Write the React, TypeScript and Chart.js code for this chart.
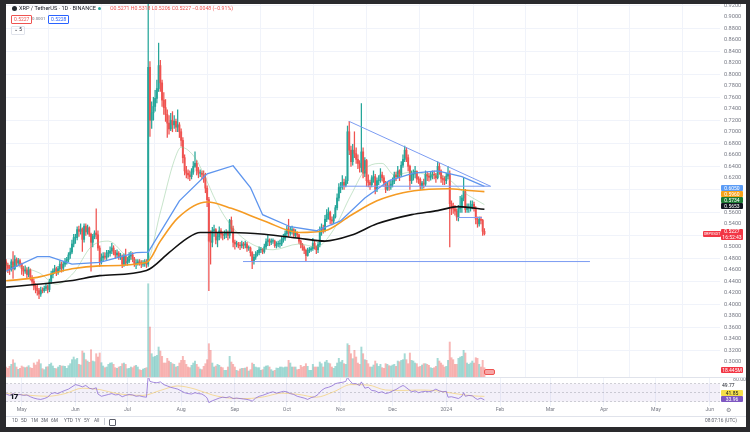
import React, { useEffect, useRef } from "react";
import { Chart, registerables } from "chart.js";
Chart.register(...registerables);

// Day index 0 = 1 May 2023. First candle = 22 Apr 2023.
const START_DAY = -9;
const FIRST_OPEN = 0.474;

// Daily closes (22 Apr 2023 .. 23 Jan 2024)
const closes = [
  // Apr 22-30
  0.468, 0.463, 0.461, 0.474, 0.462, 0.478, 0.472, 0.476, 0.470,
  // May
  0.462, 0.458, 0.460, 0.452, 0.460, 0.446, 0.440, 0.432, 0.428, 0.424, 0.418, 0.425, 0.424, 0.428, 0.431, 0.426, 0.440, 0.452, 0.458, 0.462, 0.455, 0.462, 0.470, 0.463, 0.470, 0.475, 0.478, 0.486, 0.491, 0.505, 0.516,
  // Jun
  0.516, 0.530, 0.527, 0.531, 0.513, 0.536, 0.526, 0.533, 0.522, 0.508, 0.518, 0.524, 0.521, 0.498, 0.474, 0.481, 0.484, 0.482, 0.489, 0.489, 0.493, 0.498, 0.491, 0.486, 0.489, 0.483, 0.484, 0.470, 0.484, 0.472,
  // Jul
  0.475, 0.484, 0.486, 0.479, 0.471, 0.472, 0.474, 0.473, 0.470, 0.471, 0.474, 0.470, 0.812, 0.720, 0.733, 0.744, 0.758, 0.775, 0.815, 0.785, 0.755, 0.742, 0.730, 0.715, 0.705, 0.720, 0.712, 0.718, 0.708, 0.712, 0.700,
  // Aug
  0.685, 0.655, 0.632, 0.628, 0.625, 0.622, 0.630, 0.640, 0.645, 0.632, 0.628, 0.628, 0.626, 0.620, 0.602, 0.582, 0.510, 0.508, 0.528, 0.530, 0.512, 0.518, 0.528, 0.522, 0.520, 0.522, 0.524, 0.520, 0.546, 0.532, 0.508,
  // Sep
  0.505, 0.505, 0.503, 0.502, 0.505, 0.503, 0.505, 0.498, 0.498, 0.490, 0.475, 0.482, 0.487, 0.490, 0.495, 0.495, 0.492, 0.500, 0.509, 0.512, 0.508, 0.510, 0.510, 0.502, 0.505, 0.505, 0.505, 0.513, 0.515, 0.523,
  // Oct
  0.531, 0.524, 0.528, 0.530, 0.520, 0.525, 0.521, 0.510, 0.504, 0.499, 0.494, 0.485, 0.494, 0.495, 0.497, 0.506, 0.500, 0.495, 0.504, 0.526, 0.533, 0.530, 0.548, 0.556, 0.560, 0.547, 0.545, 0.552, 0.568, 0.585, 0.603,
  // Nov
  0.605, 0.612, 0.607, 0.615, 0.700, 0.668, 0.648, 0.668, 0.662, 0.652, 0.645, 0.638, 0.665, 0.628, 0.650, 0.615, 0.612, 0.608, 0.620, 0.622, 0.600, 0.615, 0.616, 0.625, 0.620, 0.611, 0.600, 0.606, 0.604, 0.609,
  // Dec
  0.614, 0.625, 0.622, 0.632, 0.625, 0.642, 0.652, 0.668, 0.655, 0.640, 0.615, 0.626, 0.627, 0.631, 0.618, 0.617, 0.606, 0.611, 0.609, 0.626, 0.623, 0.621, 0.624, 0.626, 0.625, 0.620, 0.640, 0.632, 0.619, 0.617, 0.615,
  // Jan 1-23
  0.623, 0.627, 0.575, 0.570, 0.566, 0.562, 0.552, 0.566, 0.569, 0.585, 0.596, 0.565, 0.568, 0.568, 0.570, 0.574, 0.567, 0.548, 0.540, 0.548, 0.546, 0.5271, 0.5227,
];

const highs = [
  0.478, 0.472, 0.468, 0.478, 0.492, 0.485, 0.481, 0.480, 0.479,
  0.472, 0.466, 0.467, 0.464, 0.465, 0.462, 0.450, 0.444, 0.436, 0.434, 0.428, 0.430, 0.429, 0.432, 0.436, 0.434, 0.444, 0.458, 0.462, 0.468, 0.465, 0.466, 0.476, 0.474, 0.474, 0.480, 0.482, 0.490, 0.498, 0.512, 0.522,
  0.522, 0.535, 0.536, 0.540, 0.533, 0.540, 0.540, 0.538, 0.535, 0.524, 0.522, 0.528, 0.566, 0.528, 0.502, 0.488, 0.490, 0.490, 0.494, 0.494, 0.500, 0.506, 0.502, 0.494, 0.495, 0.492, 0.489, 0.486, 0.488, 0.496,
  0.482, 0.490, 0.492, 0.490, 0.482, 0.478, 0.478, 0.478, 0.476, 0.476, 0.478, 0.478, 0.938, 0.822, 0.752, 0.760, 0.772, 0.790, 0.854, 0.824, 0.790, 0.768, 0.756, 0.738, 0.728, 0.732, 0.735, 0.728, 0.722, 0.738, 0.716,
  0.705, 0.690, 0.660, 0.640, 0.634, 0.632, 0.636, 0.648, 0.665, 0.650, 0.638, 0.634, 0.632, 0.632, 0.628, 0.606, 0.586, 0.528, 0.534, 0.538, 0.532, 0.525, 0.535, 0.532, 0.526, 0.528, 0.530, 0.528, 0.548, 0.552, 0.536,
  0.512, 0.510, 0.508, 0.508, 0.510, 0.508, 0.510, 0.508, 0.502, 0.500, 0.492, 0.487, 0.492, 0.494, 0.500, 0.499, 0.497, 0.505, 0.514, 0.520, 0.514, 0.514, 0.514, 0.512, 0.509, 0.510, 0.512, 0.518, 0.522, 0.528,
  0.536, 0.548, 0.534, 0.536, 0.532, 0.530, 0.526, 0.522, 0.512, 0.506, 0.502, 0.496, 0.498, 0.499, 0.500, 0.515, 0.510, 0.502, 0.508, 0.535, 0.540, 0.538, 0.555, 0.565, 0.568, 0.562, 0.552, 0.556, 0.572, 0.592, 0.610,
  0.612, 0.624, 0.618, 0.622, 0.710, 0.718, 0.675, 0.678, 0.700, 0.672, 0.660, 0.650, 0.749, 0.672, 0.655, 0.652, 0.625, 0.616, 0.624, 0.632, 0.626, 0.620, 0.624, 0.636, 0.630, 0.624, 0.614, 0.612, 0.614, 0.616,
  0.620, 0.630, 0.630, 0.640, 0.634, 0.648, 0.660, 0.675, 0.673, 0.660, 0.642, 0.632, 0.634, 0.640, 0.632, 0.622, 0.620, 0.614, 0.618, 0.632, 0.630, 0.628, 0.630, 0.632, 0.632, 0.628, 0.648, 0.645, 0.634, 0.624, 0.622,
  0.628, 0.640, 0.632, 0.580, 0.576, 0.572, 0.566, 0.572, 0.588, 0.590, 0.620, 0.600, 0.575, 0.575, 0.580, 0.580, 0.578, 0.570, 0.552, 0.552, 0.552, 0.548, 0.5318,
];

const lows = [
  0.460, 0.455, 0.452, 0.458, 0.445, 0.460, 0.466, 0.468, 0.466,
  0.452, 0.450, 0.454, 0.446, 0.448, 0.442, 0.434, 0.425, 0.420, 0.416, 0.410, 0.414, 0.420, 0.421, 0.424, 0.420, 0.422, 0.436, 0.446, 0.454, 0.450, 0.452, 0.458, 0.456, 0.458, 0.466, 0.470, 0.474, 0.480, 0.488, 0.500,
  0.506, 0.512, 0.518, 0.522, 0.492, 0.508, 0.520, 0.522, 0.518, 0.458, 0.500, 0.514, 0.514, 0.494, 0.466, 0.470, 0.476, 0.478, 0.478, 0.482, 0.484, 0.488, 0.486, 0.480, 0.482, 0.478, 0.478, 0.464, 0.466, 0.468,
  0.468, 0.472, 0.478, 0.474, 0.466, 0.462, 0.468, 0.468, 0.464, 0.466, 0.466, 0.464, 0.466, 0.692, 0.706, 0.720, 0.736, 0.750, 0.770, 0.770, 0.744, 0.730, 0.718, 0.690, 0.696, 0.702, 0.700, 0.706, 0.700, 0.700, 0.690,
  0.675, 0.646, 0.625, 0.620, 0.618, 0.615, 0.618, 0.626, 0.638, 0.625, 0.620, 0.622, 0.618, 0.612, 0.594, 0.570, 0.424, 0.470, 0.500, 0.518, 0.505, 0.500, 0.512, 0.515, 0.512, 0.514, 0.516, 0.512, 0.515, 0.526, 0.500,
  0.496, 0.500, 0.498, 0.495, 0.498, 0.497, 0.498, 0.492, 0.494, 0.484, 0.462, 0.470, 0.478, 0.484, 0.486, 0.490, 0.488, 0.489, 0.496, 0.502, 0.502, 0.504, 0.506, 0.499, 0.498, 0.500, 0.499, 0.502, 0.508, 0.511,
  0.518, 0.518, 0.520, 0.522, 0.516, 0.516, 0.516, 0.506, 0.498, 0.494, 0.488, 0.476, 0.484, 0.490, 0.492, 0.494, 0.496, 0.488, 0.490, 0.500, 0.520, 0.524, 0.526, 0.544, 0.548, 0.540, 0.538, 0.540, 0.550, 0.564, 0.580,
  0.594, 0.600, 0.600, 0.604, 0.610, 0.660, 0.640, 0.642, 0.655, 0.645, 0.636, 0.630, 0.630, 0.620, 0.622, 0.605, 0.604, 0.600, 0.604, 0.612, 0.592, 0.596, 0.608, 0.612, 0.614, 0.605, 0.594, 0.598, 0.598, 0.600,
  0.604, 0.610, 0.615, 0.620, 0.615, 0.622, 0.638, 0.648, 0.648, 0.632, 0.600, 0.610, 0.616, 0.620, 0.612, 0.610, 0.600, 0.600, 0.602, 0.606, 0.615, 0.614, 0.616, 0.618, 0.618, 0.612, 0.618, 0.626, 0.612, 0.608, 0.608,
  0.610, 0.618, 0.500, 0.556, 0.558, 0.555, 0.546, 0.545, 0.560, 0.560, 0.580, 0.560, 0.560, 0.560, 0.562, 0.566, 0.562, 0.540, 0.534, 0.536, 0.540, 0.520, 0.5206,
];

// Daily volume, millions XRP
const volumes = [
  300, 260, 320, 380, 520, 420, 300, 230, 260,
  330, 300, 280, 300, 340, 280, 260, 420, 360, 450, 520, 400, 250, 220, 300, 310, 380, 420, 330, 260, 250, 300, 350, 330, 330, 320, 260, 340, 400, 520, 600,
  520, 560, 380, 360, 780, 720, 520, 480, 440, 820, 480, 460, 700, 600, 720, 430, 330, 280, 300, 380, 420, 430, 380, 280, 260, 300, 320, 400, 420, 380,
  250, 260, 300, 280, 330, 350, 300, 220, 200, 240, 260, 280, 2800, 1500, 700, 600, 620, 650, 900, 780, 620, 420, 420, 560, 480, 440, 400, 380, 300, 320, 420,
  500, 620, 500, 380, 300, 280, 350, 420, 480, 380, 300, 240, 220, 320, 400, 520, 1000, 800, 420, 300, 330, 380, 350, 300, 280, 200, 200, 300, 620, 450, 380,
  300, 200, 180, 240, 260, 260, 270, 300, 180, 220, 420, 380, 300, 280, 280, 200, 220, 300, 330, 340, 300, 220, 180, 200, 270, 260, 300, 300, 280, 300,
  300, 500, 420, 300, 300, 300, 220, 230, 350, 300, 320, 400, 320, 200, 200, 380, 300, 300, 300, 450, 400, 300, 450, 500, 420, 400, 300, 260, 320, 420, 560,
  450, 500, 400, 380, 1000, 950, 700, 550, 800, 600, 420, 380, 900, 700, 520, 500, 400, 300, 300, 360, 480, 400, 320, 380, 280, 260, 400, 380, 340, 330,
  360, 380, 320, 480, 460, 500, 520, 700, 520, 400, 720, 500, 480, 420, 400, 300, 320, 360, 400, 400, 380, 350, 280, 260, 280, 320, 560, 480, 420, 360, 300,
  320, 500, 1050, 580, 520, 380, 380, 560, 600, 620, 800, 720, 420, 380, 420, 480, 420, 580, 560, 380, 300, 500, 280,
];

// Moving averages, read at sparse days
const blueDays = [-9, 9, 16, 29, 45, 66, 73, 91, 107, 122, 132, 139, 155, 170, 184, 198, 212, 226, 240, 254, 267];
const blueVals = [0.458, 0.483, 0.483, 0.470, 0.473, 0.490, 0.491, 0.580, 0.627, 0.641, 0.603, 0.556, 0.535, 0.528, 0.545, 0.585, 0.615, 0.628, 0.632, 0.622, 0.605];
const orangeDays = [-9, 9, 29, 45, 72, 80, 90, 107, 121, 140, 160, 175, 190, 205, 220, 235, 246, 258, 267];
const orangeVals = [0.441, 0.447, 0.462, 0.467, 0.473, 0.510, 0.550, 0.578, 0.567, 0.545, 0.525, 0.528, 0.555, 0.580, 0.594, 0.600, 0.601, 0.598, 0.596];
const blackDays = [-9, 9, 28, 45, 72, 85, 95, 103, 121, 140, 160, 175, 190, 205, 225, 240, 252, 267];
const blackVals = [0.430, 0.435, 0.441, 0.450, 0.459, 0.490, 0.514, 0.525, 0.525, 0.522, 0.515, 0.510, 0.520, 0.540, 0.556, 0.563, 0.570, 0.5653];
const greenDays = [-9, 10, 20, 30, 40, 50, 62, 72, 80, 88, 92, 100, 106, 112, 120, 130, 145, 160, 170, 180, 190, 200, 208, 215, 225, 235, 245, 255, 267];
const greenVals = [0.470, 0.455, 0.435, 0.455, 0.500, 0.510, 0.480, 0.475, 0.560, 0.650, 0.673, 0.655, 0.620, 0.580, 0.540, 0.510, 0.495, 0.505, 0.500, 0.530, 0.590, 0.640, 0.645, 0.625, 0.630, 0.625, 0.620, 0.595, 0.5734];

// Drawn trend lines
const descLineDays = [189, 270.8];
const descLineVals = [0.718, 0.605];
const flatLineDays = [183.7, 270.2];
const flatLineVals = [0.6054, 0.6054];
const supportDays = [127.7, 327.9];
const supportVals = [0.4745, 0.4745];
const shortDays = [251.8, 265.6];
const shortVals = [0.551, 0.551];

// RSI (read at sparse days)
const rsiDays = [-9, -7, -5, -3, -1, 1, 3, 5, 7, 9, 11, 13, 15, 17, 19, 21, 23, 25, 27, 29, 31, 33, 35, 37, 39, 41, 43, 44, 46, 48, 50, 52, 54, 56, 58, 60, 62, 64, 66, 68, 70, 72, 73, 74, 76, 78, 80, 82, 84, 86, 88, 90, 92, 94, 96, 98, 100, 102, 104, 106, 107, 108, 110, 112, 114, 116, 118, 120, 122, 124, 126, 128, 130, 132, 133, 135, 137, 139, 141, 143, 145, 147, 149, 151, 153, 155, 157, 159, 161, 163, 165, 167, 169, 171, 173, 175, 177, 179, 181, 183, 185, 187, 188, 189, 191, 193, 195, 196, 198, 200, 202, 204, 206, 208, 210, 212, 214, 216, 218, 220, 221, 223, 225, 227, 229, 231, 233, 235, 237, 239, 241, 243, 245, 246, 248, 250, 252, 254, 255, 256, 258, 260, 262, 263, 265, 267];
const rsiVals = [47, 44, 48, 45, 46, 44, 45, 41, 38, 36, 35, 37, 40, 48, 50, 48, 52, 55, 58, 63, 68, 66, 63, 66, 60, 58, 61, 47, 42, 44, 46, 48, 45, 46, 41, 44, 46, 45, 42, 43, 41, 40, 88, 75, 73, 72, 74, 68, 65, 62, 60, 58, 54, 50, 48, 47, 50, 48, 47, 42, 38, 28, 32, 35, 38, 40, 39, 41, 37, 38, 37, 36, 35, 33, 31, 38, 42, 44, 47, 50, 52, 49, 51, 53, 52, 48, 46, 42, 40, 38, 35, 39, 41, 46, 55, 60, 62, 65, 70, 72, 73, 75, 84, 78, 70, 70, 66, 74, 60, 62, 55, 54, 50, 52, 48, 50, 54, 57, 62, 66, 64, 58, 52, 54, 50, 52, 53, 52, 54, 58, 54, 52, 53, 40, 41, 39, 37, 42, 50, 42, 44, 43, 37, 35, 38, 33.96];
const rsiMaDays = [-9, 5, 15, 25, 35, 45, 55, 70, 80, 90, 100, 110, 120, 130, 140, 150, 160, 170, 180, 190, 200, 210, 220, 230, 240, 250, 260, 267];
const rsiMaVals = [48, 44, 42, 48, 60, 57, 48, 44, 55, 65, 58, 45, 38, 37, 41, 49, 46, 40, 52, 68, 67, 56, 55, 56, 54, 48, 43, 41.85];

// Axis ticks
const monthDays = [0, 31, 61, 92, 123, 153, 184, 214, 245, 276, 305, 336, 366, 397];
const monthLabels = ["May", "Jun", "Jul", "Aug", "Sep", "Oct", "Nov", "Dec", "2024", "Feb", "Mar", "Apr", "May", "Jun"];
const priceTicks = [0.30, 0.32, 0.34, 0.36, 0.38, 0.40, 0.42, 0.44, 0.46, 0.48, 0.50, 0.52, 0.54, 0.56, 0.58, 0.60, 0.62, 0.64, 0.66, 0.68, 0.70, 0.72, 0.74, 0.76, 0.78, 0.80, 0.82, 0.84, 0.86, 0.88, 0.90, 0.92];
const hiddenPriceTicks = [0.58, 0.60, 0.52];

const X_MIN = -9.06;
const X_MAX = 402.94;
const UP = "#26a69a";
const DOWN = "#ef5350";
const FONT = "Roboto";
const GRID = "#f0f3fa";

const pts = (ds: number[], vs: number[]) => ds.map((d, i) => ({ x: d, y: vs[i] }));

function monthTicks(scale: any) {
  scale.ticks = monthDays.map((v) => ({ value: v }));
}

export default function App() {
  const priceRef = useRef<HTMLCanvasElement>(null);
  const rsiRef = useRef<HTMLCanvasElement>(null);

  useEffect(() => {
    const days = closes.map((_, i) => START_DAY + i);
    const opens = closes.map((_, i) => (i === 0 ? FIRST_OPEN : closes[i - 1]));
    const isUp = closes.map((c, i) => c >= opens[i]);
    const candleCol = isUp.map((u) => (u ? UP : DOWN));
    const volCol = isUp.map((u) => (u ? "rgba(38,166,154,0.42)" : "rgba(239,83,80,0.42)"));

    const lineDs = (data: any, color: string, width: number, tension: number, order = 0) => ({
      type: "line" as const,
      data,
      borderColor: color,
      borderWidth: width,
      pointRadius: 0,
      tension,
      cubicInterpolationMode: tension > 0 ? ("monotone" as const) : ("default" as const),
      yAxisID: "y",
      order,
    });

    const priceChart = new Chart(priceRef.current!, {
      type: "bar",
      data: {
        datasets: [
          lineDs(pts(descLineDays, descLineVals), "#7b9cf2", 1, 0),
          lineDs(pts(flatLineDays, flatLineVals), "#7b9cf2", 1, 0),
          lineDs(pts(supportDays, supportVals), "#7b9cf2", 1, 0),
          lineDs(pts(shortDays, shortVals), "#7b9cf2", 1, 0),
          lineDs(pts(blueDays, blueVals), "#5e95ee", 1.3, 0, 1),
          lineDs(pts(orangeDays, orangeVals), "#f59b23", 1.6, 0.4, 1),
          lineDs(pts(blackDays, blackVals), "#111111", 1.6, 0.4, 1),
          lineDs(pts(greenDays, greenVals), "rgba(120,190,130,0.6)", 0.7, 0.4, 1),
          {
            type: "bar" as const,
            data: days.map((d, i) => ({ x: d, y: [opens[i], closes[i]] })),
            backgroundColor: candleCol,
            barThickness: 1.3,
            minBarLength: 0.6,
            grouped: false,
            yAxisID: "y",
            order: 2,
          },
          {
            type: "bar" as const,
            data: days.map((d, i) => ({ x: d, y: [lows[i], highs[i]] })),
            backgroundColor: candleCol,
            barThickness: 0.6,
            grouped: false,
            yAxisID: "y",
            order: 3,
          },
          {
            type: "bar" as const,
            data: days.map((d, i) => ({ x: d, y: volumes[i] })),
            backgroundColor: volCol,
            barThickness: 1.3,
            grouped: false,
            yAxisID: "yv",
            order: 5,
          },
        ] as any,
      },
      options: {
        animation: false,
        responsive: false,
        maintainAspectRatio: false,
        events: [],
        layout: { padding: 0 },
        plugins: { legend: { display: false }, tooltip: { enabled: false } },
        scales: {
          x: {
            type: "linear",
            min: X_MIN,
            max: X_MAX,
            offset: false,
            afterBuildTicks: monthTicks,
            ticks: { display: false },
            grid: { color: GRID, lineWidth: 1, drawTicks: false },
            border: { display: false },
            afterFit: (s: any) => { s.height = 0; s.paddingLeft = 0; s.paddingRight = 0; },
          },
          y: {
            position: "right",
            min: 0.2739,
            max: 0.922,
            afterBuildTicks: (s: any) => { s.ticks = priceTicks.map((v) => ({ value: v })); },
            ticks: {
              padding: 4,
              color: "#787b86",
              font: { family: FONT, size: 5.6 },
              callback: (v: any) => (hiddenPriceTicks.some((h) => Math.abs(h - v) < 1e-6) ? "" : Number(v).toFixed(4)),
            },
            grid: {
              drawTicks: false,
              color: (c: any) => {
                const v = c.tick ? c.tick.value : 0;
                const k = Math.round(v * 100);
                return k % 4 === 0 ? GRID : "rgba(0,0,0,0)";
              },
            },
            border: { display: false },
            afterFit: (s: any) => { s.width = 26; s.paddingTop = 0; s.paddingBottom = 0; },
          },
          yv: {
            display: false,
            position: "left",
            min: 0,
            max: 11200,
          },
        } as any,
      },
    });

    const rsiBand = {
      id: "rsiBand",
      beforeDatasetsDraw(chart: any) {
        const { ctx, chartArea, scales } = chart;
        const y = scales.y;
        const y70 = y.getPixelForValue(70);
        const y30 = y.getPixelForValue(30);
        const y50 = y.getPixelForValue(50);
        ctx.save();
        ctx.fillStyle = "rgba(126,87,194,0.09)";
        ctx.fillRect(chartArea.left, y70, chartArea.right - chartArea.left, y30 - y70);
        ctx.setLineDash([2, 2]);
        ctx.strokeStyle = "rgba(120,123,134,0.55)";
        ctx.lineWidth = 0.6;
        [y70, y50, y30].forEach((yy: number) => {
          ctx.beginPath();
          ctx.moveTo(chartArea.left, yy);
          ctx.lineTo(chartArea.right, yy);
          ctx.stroke();
        });
        ctx.restore();
      },
    };

    const rsiChart = new Chart(rsiRef.current!, {
      type: "line",
      data: {
        datasets: [
          {
            data: pts(rsiDays, rsiVals),
            borderColor: "#8e6fd6",
            borderWidth: 0.8,
            pointRadius: 0,
            tension: 0,
          },
          {
            data: pts(rsiMaDays, rsiMaVals),
            borderColor: "rgba(245,200,80,0.7)",
            borderWidth: 0.8,
            pointRadius: 0,
            tension: 0.4,
            cubicInterpolationMode: "monotone",
          },
        ] as any,
      },
      options: {
        animation: false,
        responsive: false,
        maintainAspectRatio: false,
        events: [],
        layout: { padding: 0 },
        plugins: { legend: { display: false }, tooltip: { enabled: false } },
        scales: {
          x: {
            type: "linear",
            min: X_MIN,
            max: X_MAX,
            afterBuildTicks: monthTicks,
            ticks: {
              padding: 1,
              maxRotation: 0,
              autoSkip: false,
              color: "#787b86",
              font: { family: FONT, size: 5.2 },
              callback: (v: any) => {
                const i = monthDays.indexOf(Number(v));
                return i >= 0 ? monthLabels[i] : "";
              },
            },
            grid: { color: GRID, drawTicks: false },
            border: { display: false },
            afterFit: (s: any) => { s.height = 11; s.paddingLeft = 0; s.paddingRight = 0; },
          },
          y: {
            position: "right",
            min: 20.4,
            max: 84.9,
            afterBuildTicks: (s: any) => { s.ticks = [{ value: 80 }]; },
            ticks: {
              padding: 5,
              color: "#787b86",
              font: { family: FONT, size: 5.2 },
              callback: (v: any) => Number(v).toFixed(2),
            },
            grid: { display: false },
            border: { display: false },
            afterFit: (s: any) => { s.width = 26; s.paddingTop = 0; s.paddingBottom = 0; },
          },
        } as any,
      },
      plugins: [rsiBand],
    });

    return () => {
      priceChart.destroy();
      rsiChart.destroy();
    };
  }, []);

  const t = (extra: React.CSSProperties): React.CSSProperties => ({
    position: "absolute",
    fontFamily: FONT,
    whiteSpace: "nowrap",
    lineHeight: 1,
    ...extra,
  });
  const badge = (top: number, bg: string, color = "#fff"): React.CSSProperties => ({
    position: "absolute",
    left: 721,
    top,
    width: 22,
    height: 6,
    background: bg,
    color,
    fontFamily: FONT,
    fontSize: 5,
    lineHeight: "6px",
    textAlign: "center",
    borderRadius: 1,
  });

  return (
    <div style={{ position: "fixed", left: 0, top: 0, width: 750, height: 432, background: "#2a2a2d", overflow: "hidden" }}>
      <div style={{ position: "absolute", left: 6, top: 4, width: 740, height: 423, background: "#ffffff" }} />
      <canvas ref={priceRef} width={740} height={373} style={{ position: "absolute", left: 6, top: 4, width: 740, height: 373 }} />
      <canvas ref={rsiRef} width={740} height={40} style={{ position: "absolute", left: 6, top: 377, width: 740, height: 40 }} />
      <div style={{ position: "absolute", left: 6, top: 377, width: 740, height: 1, background: "#e0e3eb" }} />
      <div style={{ position: "absolute", left: 6, top: 416, width: 740, height: 1, background: "#e0e3eb" }} />

      {/* header */}
      <div style={{ position: "absolute", left: 12, top: 6, width: 5, height: 5, borderRadius: 3, background: "#23292f" }} />
      <div style={t({ left: 19, top: 6, fontSize: 5.6, color: "#131722" })}>XRP / TetherUS · 1D · BINANCE</div>
      <div style={{ position: "absolute", left: 98, top: 7, width: 3, height: 3, borderRadius: 2, background: "#26a69a" }} />
      <div style={t({ left: 110, top: 6, fontSize: 5.2, color: "#ef5350" })}>O0.5271 H0.5318 L0.5206 C0.5227 −0.0048 (−0.91%)</div>
      <div style={t({ left: 11, top: 15, fontSize: 5, color: "#ef5350", border: "0.5px solid #ef5350", padding: "1px 2px", borderRadius: 1 })}>0.5227</div>
      <div style={t({ left: 32, top: 17, fontSize: 4.4, color: "#787b86" })}>0.0001</div>
      <div style={t({ left: 48, top: 15, fontSize: 5, color: "#2962ff", border: "0.5px solid #2962ff", padding: "1px 2px", borderRadius: 1 })}>0.5228</div>
      <div style={t({ left: 11, top: 26, fontSize: 4.6, color: "#131722", border: "0.5px solid #e0e3eb", padding: "1px 2px", borderRadius: 1 })}>⌄ 5</div>

      {/* right side badges */}
      <div style={badge(185, "#5b9cf6")}>0.6050</div>
      <div style={badge(191, "#f7a21b")}>0.5960</div>
      <div style={badge(197, "#1e7b34")}>0.5734</div>
      <div style={badge(203, "#131722")}>0.5653</div>
      <div style={t({ left: 703, top: 231, width: 18, height: 6, background: "#f23645", color: "#fff", fontSize: 3.8, lineHeight: "6px", textAlign: "center", borderRadius: 1 })}>XRPUSDT</div>
      <div style={t({ left: 721, top: 229, width: 22, height: 11, background: "#f23645", color: "#fff", fontSize: 5, lineHeight: "5.5px", textAlign: "center", borderRadius: 1 })}>
        0.5227<br />16:52:43
      </div>
      <div style={badge(367, "#f23645")}>18.445M</div>
      <div style={t({ left: 722, top: 383, fontSize: 5, color: "#131722" })}>49.77</div>
      <div style={badge(390, "#f5e04a", "#131722")}>41.85</div>
      <div style={badge(396, "#7e57c2")}>33.96</div>
      <div style={{ position: "absolute", left: 484, top: 369, width: 9, height: 4, borderRadius: 2, background: "#f7a5a5", border: "0.5px solid #ef5350" }} />

      {/* logo */}
      <div style={t({ left: 10, top: 393, fontSize: 8, fontWeight: 900, color: "#131722", letterSpacing: -1 })}>17</div>

      {/* bottom toolbar */}
      {[
        ["1D", 12], ["5D", 21], ["1M", 31], ["3M", 41], ["6M", 51], ["YTD", 64], ["1Y", 75], ["5Y", 84], ["All", 94],
      ].map(([s, x]) => (
        <div key={s as string} style={t({ left: x as number, top: 419, fontSize: 4.8, color: "#5d606b" })}>{s}</div>
      ))}
      <div style={{ position: "absolute", left: 104, top: 418, width: 0.5, height: 7, background: "#c8cbd3" }} />
      <div style={{ position: "absolute", left: 109, top: 419, width: 5, height: 5, border: "0.6px solid #5d606b", borderRadius: 1 }} />
      <div style={t({ left: 705, top: 419, fontSize: 4.8, color: "#5d606b" })}>08:07:16 (UTC)</div>
      <div style={t({ left: 726, top: 407, fontSize: 6, color: "#787b86" })}>⚙</div>
    </div>
  );
}
